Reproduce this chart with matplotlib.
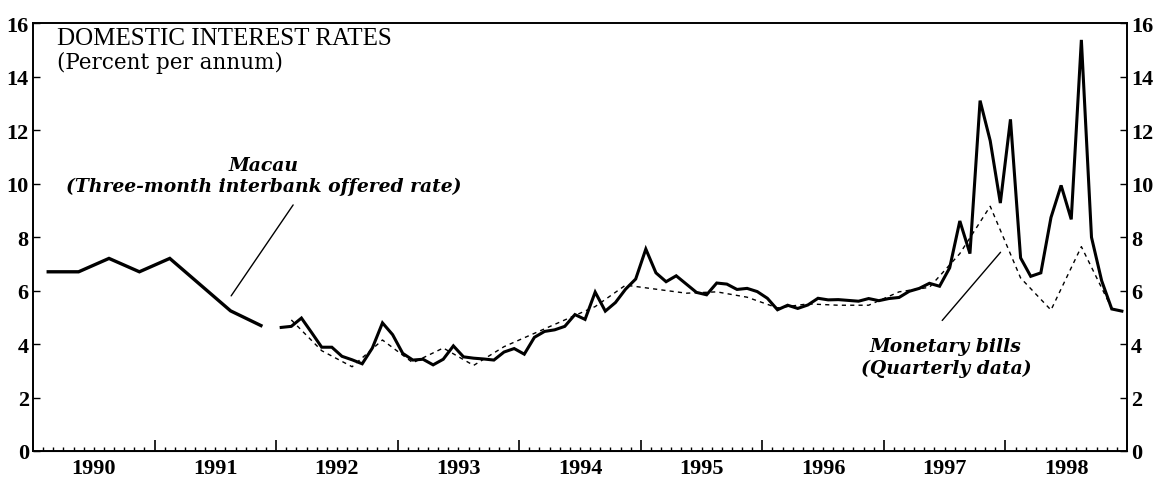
import numpy as np
import matplotlib.pyplot as plt
from matplotlib.ticker import FixedLocator, NullFormatter

# Macau three-month interbank offered rate, quarterly 1990-1991 (mid-quarter)
macau_q_start = 1990
macau_quarterly = [6.70, 6.70, 7.20, 6.70, 7.20, 6.22, 5.24, 4.69]

# Macau three-month interbank offered rate, monthly 1992-1998
macau_m_start = 1992
macau_monthly = [
    4.62, 4.66, 4.97, 4.43, 3.88, 3.88, 3.54, 3.41, 3.26, 3.85, 4.79, 4.35,   # 1992
    3.65, 3.40, 3.43, 3.22, 3.43, 3.93, 3.52, 3.47, 3.44, 3.40, 3.70, 3.83,   # 1993
    3.62, 4.25, 4.47, 4.53, 4.66, 5.10, 4.92, 5.94, 5.23, 5.55, 6.05, 6.43,   # 1994
    7.55, 6.66, 6.33, 6.55, 6.24, 5.93, 5.84, 6.28, 6.24, 6.04, 6.08, 5.96,   # 1995
    5.71, 5.28, 5.45, 5.33, 5.46, 5.71, 5.65, 5.66, 5.63, 5.60, 5.70, 5.62,   # 1996
    5.70, 5.74, 5.97, 6.08, 6.27, 6.16, 6.85, 8.60, 7.38, 13.10, 11.60, 9.27, # 1997
    12.40, 7.22, 6.53, 6.66, 8.73, 9.93, 8.66, 15.37, 7.99, 6.37, 5.31, 5.23, # 1998
]

# Monetary bills, quarterly 1992-1998 (mid-quarter)
bills_start = 1992
bills_quarterly = [
    4.90, 3.75, 3.15, 4.15,   # 1992
    3.30, 3.85, 3.20, 3.90,   # 1993
    4.40, 4.90, 5.40, 6.20,   # 1994
    6.05, 5.90, 5.95, 5.75,   # 1995
    5.35, 5.50, 5.45, 5.45,   # 1996
    5.95, 6.12, 7.38, 9.15,   # 1997
    6.47, 5.27, 7.64, 5.33,   # 1998
]

years = list(range(1990, 1999))
yticks = [0, 2, 4, 6, 8, 10, 12, 14, 16]

t_mq = macau_q_start + (np.arange(len(macau_quarterly)) + 0.5) / 4
t_mm = macau_m_start + (np.arange(len(macau_monthly)) + 0.5) / 12
t_bq = bills_start + (np.arange(len(bills_quarterly)) + 0.5) / 4

serif = 'Liberation Serif'

fig = plt.figure(figsize=(11.63, 4.81), dpi=100)
ax = fig.add_axes([0.0284, 0.0603, 0.9406, 0.8897])

ax.plot(t_mq, macau_quarterly, color='black', lw=2.4, solid_joinstyle='miter')
ax.plot(t_mm, macau_monthly, color='black', lw=2.2, solid_joinstyle='miter')
ax.plot(t_bq, bills_quarterly, color='black', lw=1.0, linestyle=(0, (3, 3)))

ax.set_xlim(1990, 1999)
ax.set_ylim(0, 16)

# year labels in the middle of each year, monthly minor ticks
ax.set_xticks([y + 0.5 for y in years])
ax.set_xticklabels([str(y) for y in years], fontfamily=serif, fontweight='bold', fontsize=16)
months = [y + m / 12 for y in years for m in range(12) if m not in (0, 6)]
ax.xaxis.set_minor_locator(FixedLocator(months))
ax.tick_params(axis='x', which='both', direction='in', length=3, width=1, pad=5)

# longer ticks at year boundaries
sec = ax.secondary_xaxis('bottom')
sec.set_xticks(years + [1999])
sec.xaxis.set_major_formatter(NullFormatter())
sec.tick_params(direction='in', length=8, width=1.2)

ax.set_yticks(yticks)
ax.set_yticklabels([str(v) for v in yticks], fontfamily=serif, fontweight='bold', fontsize=16)
ax.tick_params(axis='y', direction='in', length=5, width=1, right=True, labelright=True, pad=3)

for s in ax.spines.values():
    s.set_linewidth(1.4)

ax.text(0.022, 0.99, 'DOMESTIC INTEREST RATES', transform=ax.transAxes,
        fontfamily=serif, fontsize=18, va='top', ha='left')
ax.text(0.022, 0.935, '(Percent per annum)', transform=ax.transAxes,
        fontfamily='DejaVu Serif', fontsize=15.5, va='top', ha='left')

label_style = dict(ha='center', va='center', fontfamily='DejaVu Serif', fontstyle='italic',
                   fontweight='bold', fontsize=13.5, linespacing=1.25)
line_style = dict(arrowstyle='-', lw=1.0, color='black', shrinkA=0, shrinkB=0)

ax.text(1991.9, 10.3, 'Macau\n(Three-month interbank offered rate)', **label_style)
ax.annotate('', xy=(1991.63, 5.8), xytext=(1992.14, 9.2), arrowprops=line_style)

ax.text(1997.51, 3.5, 'Monetary bills\n(Quarterly data)', **label_style)
ax.annotate('', xy=(1997.96, 7.43), xytext=(1997.48, 4.88), arrowprops=line_style)

fig.savefig('out.png', dpi=100)
